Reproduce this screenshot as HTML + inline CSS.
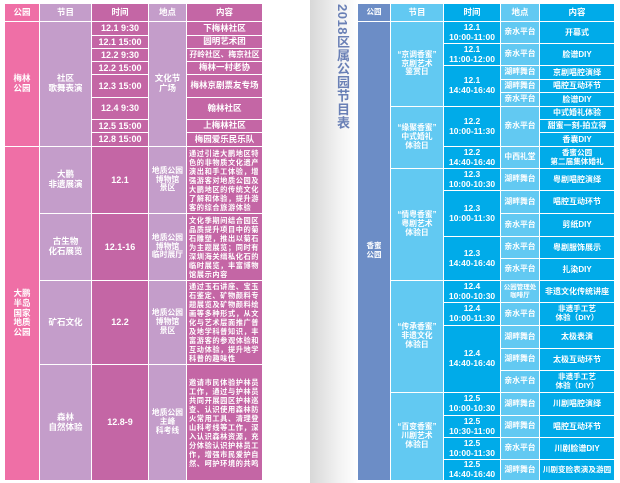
<!DOCTYPE html>
<html><head><meta charset="utf-8"><style>
html,body{margin:0;padding:0}
body{width:620px;height:483px;position:relative;overflow:hidden;background:#fff;font-family:"Liberation Sans","Noto Sans CJK SC",sans-serif}
.c{position:absolute;display:flex;align-items:center;justify-content:center;text-align:center;color:#fff;font-weight:bold;box-sizing:border-box;line-height:1.15;white-space:pre-line;overflow:hidden}
#rp{position:absolute;left:310px;top:0;width:310px;height:483px;background:linear-gradient(90deg,#d8d8d8 0,#f3f3f3 30px,#fff 48px)}
#title{position:absolute;left:333px;top:4px;writing-mode:vertical-rl;font-size:13px;font-weight:bold;color:#6a80b6;letter-spacing:0.5px}
</style></head><body>
<div id="rp"></div>
<div id="title">2018区属公园节目表</div>
<script>
function c(x1,y1,x2,y2,bg,t,fs,al){var d=document.createElement('div');d.className='c';d.style.left=x1+'px';d.style.top=y1+'px';d.style.width=(x2-x1)+'px';d.style.height=(y2-y1)+'px';d.style.background=bg;d.style.fontSize=(fs||8)+'px';if(al){d.style.textAlign=al;d.style.justifyContent='flex-start';d.style.padding='0 2px';d.style.lineHeight='9px';d.style.letterSpacing='0.6px';}d.textContent=t;document.body.appendChild(d);return d;}
var P='#ef6fa6',L='#c49dca',M='#c466a5';
c(5,4,39,21,P,'公园',8.5);c(40,4,91,21,L,'节目',8.5);c(92,4,148,21,M,'时间',8.5);c(149,4,186,21,L,'地点',8.5);c(187,4,262,21,M,'内容',8.5);
c(5,22,39,146,P,'梅林\n公园',8.5);c(40,22,91,146,L,'社区\n歌舞表演',8.5);c(149,22,186,146,L,'文化节\n广场',8.5);
var lr=[[22,35,'12.1  9:30','下梅林社区'],[36,48,'12.1  15:00','圆明艺术团'],[49,61,'12.2  9:30','孖岭社区、梅京社区'],[62,74,'12.2  15:00','梅林一村老协'],[75,97,'12.3  15:00','梅林京剧票友专场'],[98,119,'12.4  9:30','翰林社区'],[120,132,'12.5  15:00','上梅林社区'],[133,146,'12.8  15:00','梅园爱乐民乐队']];
lr.forEach(function(r){c(92,r[0],148,r[1],M,r[2],9);c(187,r[0],262,r[1],M,r[3],r[3].length>8?7.8:8.5);});
c(5,147,39,480,P,'大鹏\n半岛\n国家\n地质\n公园',8.5);
var lb=[[147,213,'大鹏\n非遗展演','12.1','地质公园\n博物馆\n景区','通过引进大鹏地区特色的非物质文化遗产演出和手工体验，增强游客对地质公园及大鹏地区的传统文化了解和体验，提升游客的综合旅游体验'],
[214,280,'古生物\n化石展览','12.1-16','地质公园\n博物馆\n临时展厅','文化季期间结合园区品质提升项目中的菊石雕塑，推出以菊石为主题展览；同时有深圳海关缉私化石的临时展览，丰富博物馆展示内容'],
[281,364,'矿石文化','12.2','地质公园\n博物馆\n景区','通过玉石讲座、宝玉石鉴定、矿物颜料专题展览及矿物颜料绘画等多种形式，从文化与艺术层面推广普及地学科普知识，丰富游客的参观体验和互动体验，提升地学科普的趣味性'],
[365,480,'森林\n自然体验','12.8-9','地质公园\n主峰\n科考线','邀请市民体验护林员工作，通过与护林员共同开展园区护林巡查、认识使用森林防火常用工具、清理登山科考线等工作，深入认识森林资源，充分体验认识护林员工作，增强市民爱护自然、呵护环境的共鸣']];
lb.forEach(function(r){c(40,r[0],91,r[1],L,r[2],8.5);c(92,r[0],148,r[1],M,r[3],9);c(149,r[0],186,r[1],L,r[4],7.8);c(187,r[0],262,r[1],M,r[5],7.2,'left');});
var B='#6c8dc6',C='#00abe9',S='#62c9f2';
c(358,4,390,21,B,'公园',7.5);c(391,4,443,21,S,'节目',8.5);c(444,4,500,21,C,'时间',8.5);c(501,4,539,21,S,'地点',8.5);c(540,4,614,21,C,'内容',8.5);
c(358,22,390,480,B,'香蜜\n公园',7.5);
c(391,22,443,106,S,'“京调香蜜”\n京剧艺术\n鉴赏日',7.8);c(391,107,443,168,S,'“缘聚香蜜”\n中式婚礼\n体验日',7.8);c(391,169,443,280,S,'“情粤香蜜”\n粤剧艺术\n体验日',7.8);c(391,281,443,392,S,'“传承香蜜”\n非遗文化\n体验日',7.8);c(391,393,443,480,S,'“百变香蜜”\n川剧艺术\n体验日',7.8);
var T=[[22,43,'12.1\n10:00-11:00'],[44,65,'12.1\n11:00-12:00'],[66,106,'12.1\n14:40-16:40'],[107,146,'12.2\n10:00-11:30'],[147,168,'12.2\n14:40-16:40'],[169,190,'12.3\n10:00-10:30'],[191,236,'12.3\n10:00-11:30'],[237,280,'12.3\n14:40-16:40'],[281,302,'12.4\n10:00-10:30'],[303,325,'12.4\n10:00-11:30'],[326,392,'12.4\n14:40-16:40'],[393,415,'12.5\n10:00-10:30'],[416,437,'12.5\n10:30-11:00'],[438,459,'12.5\n10:00-11:30'],[460,480,'12.5\n14:40-16:40']];
T.forEach(function(r){c(444,r[0],500,r[1],C,r[2],8.5);});
var R=[[22,43,'亲水平台','开幕式'],[44,65,'亲水平台','脸谱DIY'],[66,79,'湖畔舞台','京剧唱腔演绎'],[80,92,'湖畔舞台','唱腔互动环节'],[93,106,'亲水平台','脸谱DIY'],[107,119,null,'中式婚礼体验'],[120,132,null,'甜蜜一刻-拍立得'],[133,146,null,'香囊DIY'],[147,168,'中西礼堂','香蜜公园\n第二届集体婚礼'],[169,190,'湖畔舞台','粤剧唱腔演绎'],[191,213,'湖畔舞台','唱腔互动环节'],[214,236,'亲水平台','剪纸DIY'],[237,258,'亲水平台','粤剧服饰展示'],[259,280,'亲水平台','扎染DIY'],[281,302,'公园管理处\n咖啡厅','非遗文化传统讲座'],[303,325,'亲水平台','非遗手工艺\n体验（DIY）'],[326,348,'湖畔舞台','太极表演'],[349,370,'湖畔舞台','太极互动环节'],[371,392,'亲水平台','非遗手工艺\n体验（DIY）'],[393,415,'湖畔舞台','川剧唱腔演绎'],[416,437,'湖畔舞台','唱腔互动环节'],[438,459,'亲水平台','川剧脸谱DIY'],[460,480,'湖畔舞台','川剧变脸表演及游园']];
R.forEach(function(r){if(r[2]!==null)c(501,r[0],539,r[1],S,r[2],r[2].length>5?6.5:7.8);c(540,r[0],614,r[1],C,r[3],r[3].length>8?7.6:8);});
c(501,107,539,146,S,'亲水平台',7.8);
</script>
</body></html>
